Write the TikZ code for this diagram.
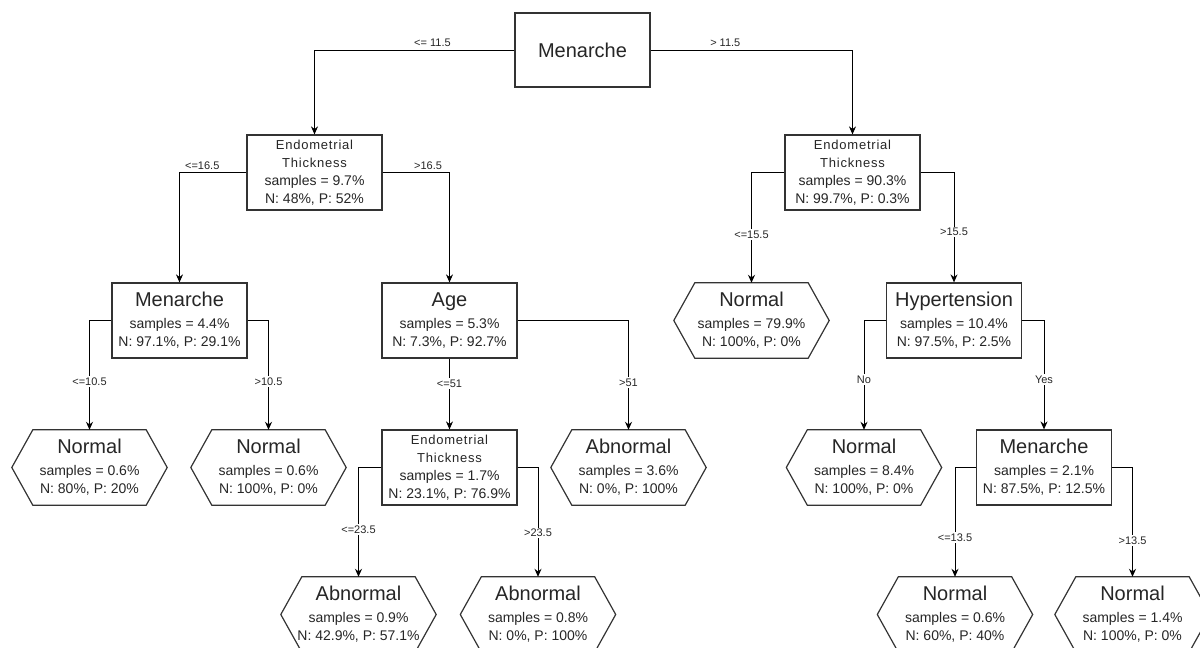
\documentclass[tikz,border=0pt]{standalone}
\usepackage{fontspec}
\setmainfont{Liberation Sans}
\usetikzlibrary{arrows.meta}

\colorlet{box edge}{black!80}
\colorlet{label text}{black!85}
\newcommand\bigfont{\fontsize{20}{22}\selectfont}
\newcommand\statfont{\fontsize{14}{18}\selectfont}
\newcommand\headfont{\fontsize{13}{17}\selectfont\addfontfeature{LetterSpace=6}}
\newcommand\condfont{\fontsize{11}{13}\selectfont}
\newcommand\ttl[1]{{\bigfont #1}\\[4pt]}
\newcommand\ethick{{\headfont Endometrial}\\{\headfont Thickness}\\}

\tikzset{
  split/.style={draw=box edge, line width=1.2pt, fill=white, minimum width=135pt,
    minimum height=75pt, inner sep=2pt, align=center, text=label text, font=\statfont},
  leaf/.style={minimum width=155pt, minimum height=75pt, inner sep=2pt,
    align=center, text=label text, font=\statfont},
  cond/.style={font=\condfont, text=label text, fill=white, inner sep=1.5pt}
  }
\tikzstyle{edge} = [draw, line width=1pt, -{Stealth[length=8pt,width=7pt]}]
\tikzstyle{leaf edge} = [draw=box edge, line width=1.2pt]

\begin{document}
\begin{tikzpicture}[x=1pt, y=-1pt]
    \useasboundingbox (0,0) rectangle (1200,648);

    % The first split
    \node[split, minimum height=74pt, font=\bigfont] (root) at (582.5,50) {Menarche};

    % The inner splits
    \foreach \pos/\name/\title/\share/\nshare/\pshare in {
        {(314.5,172.5)/etl/\ethick/9.7/48/52},
        {(852.5,172.5)/etr/\ethick/90.3/99.7/0.3},
        {(179.5,320.5)/menl/\ttl{Menarche}/4.4/97.1/29.1},
        {(449.5,320.5)/age/\ttl{Age}/5.3/7.3/92.7},
        {(954,320.5)/hyp/\ttl{Hypertension}/10.4/97.5/2.5},
        {(449.5,467.5)/etm/\ethick/1.7/23.1/76.9},
        {(1044,467.5)/menr/\ttl{Menarche}/2.1/87.5/12.5}}
      \node[split] (\name) at \pos {\title samples = \share\%\\N: \nshare\%, P: \pshare\%};

    % The leaves
    \foreach \pos/\name/\kind/\share/\nshare/\pshare in {
        {(89.5,467.5)/nl1/Normal/0.6/80/20},
        {(268.5,467.5)/nl2/Normal/0.6/100/0},
        {(628.5,467.5)/abm/Abnormal/3.6/0/100},
        {(751.5,320.5)/nr1/Normal/79.9/100/0},
        {(864,467.5)/nr2/Normal/8.4/100/0},
        {(358.5,614.5)/ab1/Abnormal/0.9/42.9/57.1},
        {(538,614.5)/ab2/Abnormal/0.8/0/100},
        {(955,614.5)/nr3/Normal/0.6/60/40},
        {(1132.5,614.5)/nr4/Normal/1.4/100/0}}
      \node[leaf] (\name) at \pos {\ttl{\kind}samples = \share\%\\N: \nshare\%, P: \pshare\%};

    % The hexagon outlines of the leaves
    \foreach \name in {nl1, nl2, abm, nr1, nr2, ab1, ab2, nr3, nr4}
      \path[leaf edge] (\name.west) -- ([xshift=21pt]\name.north west)
        -- ([xshift=-21pt]\name.north east) -- (\name.east)
        -- ([xshift=-21pt]\name.south east) -- ([xshift=21pt]\name.south west) -- cycle;

    % Branches labelled on the level part
    \foreach \source/\side/\sink/\cond/\where in {root/west/etl/<= 11.5/0.205,
        root/east/etr/> 11.5/0.185, etl/west/menl/<=16.5/0.33, etl/east/age/>16.5/0.34}
      \path[edge] (\source.\side) -| node[cond, pos=\where, above=1pt] {\cond} (\sink.north);

    % Branches labelled on the falling part
    \foreach \source/\side/\sink/\cond/\where in {menl/west/nl1/<=10.5/0.78,
        menl/east/nl2/>10.5/0.78, age/east/abm/>51/0.785, etm/west/ab1/<=23.5/0.785,
        etm/east/ab2/>23.5/0.8, etr/west/nr1/<=15.5/0.78, etr/east/hyp/>15.5/0.77,
        hyp/west/nr2/No/0.77, hyp/east/menr/Yes/0.77, menr/west/nr3/<=13.5/0.82,
        menr/east/nr4/>13.5/0.835}
      \path[edge] (\source.\side) -| node[cond, pos=\where] {\cond} (\sink.north);

    \path[edge] (age) -- node[cond, pos=0.35] {<=51} (etm);
\end{tikzpicture}
\end{document}
